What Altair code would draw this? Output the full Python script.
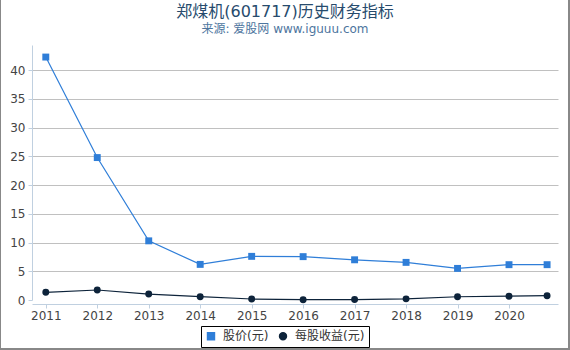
import altair as alt
import pandas as pd

# ---- data ----
years = [2011, 2012, 2013, 2014, 2015, 2016, 2017, 2018, 2019, 2020, 2020.74]
price = [42.3, 24.8, 10.3, 6.2, 7.6, 7.55, 7.0, 6.55, 5.5, 6.15, 6.15]
eps = [1.34, 1.74, 1.04, 0.58, 0.17, 0.05, 0.08, 0.2, 0.57, 0.66, 0.75]
series_names = ["股价(元)", "每股收益(元)"]
series_colors = ["#2f7ed8", "#0d233a"]
x_ticks = [2011, 2012, 2013, 2014, 2015, 2016, 2017, 2018, 2019, 2020]
y_ticks = [0, 5, 10, 15, 20, 25, 30, 35, 40]

rows = []
for y, p, e in zip(years, price, eps):
    rows.append({"year": y, "value": p, "series": series_names[0]})
    rows.append({"year": y, "value": e, "series": series_names[1]})
df = pd.DataFrame(rows)

FONT = "DejaVu Sans, Noto Sans CJK SC"

legend = alt.Legend(
    orient="none", legendX=169, legendY=281, direction="horizontal",
    title=None, strokeColor="#000000", fillColor="#ffffff", padding=4,
    cornerRadius=0, symbolSize=48,
    labelFontSize=12, labelColor="#333333", labelFont=FONT,
    labelOffset=6, columnPadding=7,
)

color_scale = alt.Scale(domain=series_names, range=series_colors)

x = alt.X(
    "year:Q",
    scale=alt.Scale(domain=[2010.732, 2020.952], nice=False, zero=False),
    axis=alt.Axis(
        values=x_ticks, format="d", title=None, grid=False, offset=4,
        domainColor="#c0d0e0", tickColor="#c0d0e0", tickSize=4,
        labelFontSize=12, labelColor="#444444", labelFont=FONT, labelPadding=2,
    ),
)
y = alt.Y(
    "value:Q",
    scale=alt.Scale(domain=[0, 44.4], nice=False),
    axis=alt.Axis(
        values=y_ticks, title=None, grid=True, gridColor="#c0c0c0",
        gridOpacity={"condition": {"test": "datum.value === 0", "value": 0}, "value": 1},
        domainColor="#c0d0e0", tickColor="#c0d0e0", tickSize=4,
        labelFontSize=12, labelColor="#444444", labelFont=FONT, labelPadding=3,
    ),
)

color_enc = alt.Color("series:N", scale=color_scale, legend=legend)

base = alt.Chart(df).encode(x=x, y=y, color=color_enc)
lines = base.mark_line(strokeWidth=1.2)
pts = base.mark_point(filled=True, opacity=1, size=48).encode(
    shape=alt.Shape("series:N", scale=alt.Scale(domain=series_names, range=["square", "circle"]), legend=legend),
)

border = alt.Chart(pd.DataFrame({"k": [0]})).mark_rule(color="#888888", strokeWidth=2)
left_b = border.encode(x=alt.value(-32), y=alt.value(-45), y2=alt.value(305))
right_b = border.encode(x=alt.value(537), y=alt.value(-45), y2=alt.value(305))
bottom_b = border.encode(x=alt.value(-32), x2=alt.value(538), y=alt.value(304))

chart = alt.layer(lines, pts, left_b, right_b, bottom_b).properties(
    width=526, height=255,
    padding={"left": 32, "top": 45, "right": 12, "bottom": 50},
    autosize=alt.AutoSizeParams(type="none"),
    background="white",
    title=alt.TitleParams(
        text="郑煤机(601717)历史财务指标",
        subtitle="来源: 爱股网 www.iguuu.com",
        fontSize=16, subtitleFontSize=12, fontWeight="normal",
        color="#274b6d", subtitleColor="#4d759e",
        font=FONT, subtitleFont=FONT,
        anchor="middle", frame="group", dx=-10, offset=-36, subtitlePadding=4,
    ),
).configure_view(stroke=None)

chart.save("out.html", embed_options={"renderer": "svg", "actions": False})
